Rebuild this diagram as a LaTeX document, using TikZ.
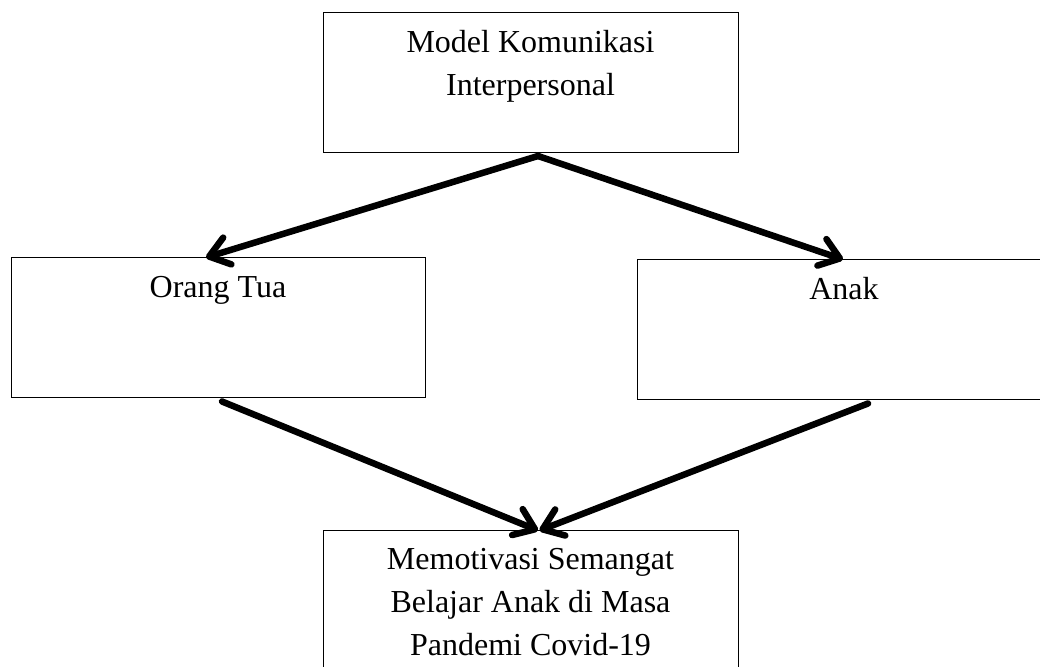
\documentclass[tikz,border=0pt]{standalone}
\usepackage{fontspec}
\setmainfont{Liberation Serif}
\usetikzlibrary{arrows.meta}
\begin{document}
\begin{tikzpicture}[x=1pt,y=1pt,
  box/.style={draw=black, line width=1pt, minimum width=414pt, minimum height=140pt, inner sep=0pt},
  lbl/.style={inner sep=0pt, anchor=base, font=\fontsize{32}{43}\selectfont},
  conn/.style={line width=6.5pt, line cap=round, -{Straight Barb[length=19pt,width=28pt,round]}}]
\useasboundingbox (0,0) rectangle (1040,666);
\node[box, minimum width=415pt] (top) at (530.5,583) {};
\node[box] (ortu) at (218,338) {};
\node[box] (anak) at (844,336) {};
\node[box, minimum width=415pt] (hasil) at (530.5,65) {};
\node[lbl] (ttop) at (530.5,613) {\parbox[t]{400pt}{\centering Model Komunikasi\\Interpersonal}};
\node[lbl] (tortu) at (218,368) {Orang Tua};
\node[lbl] (tanak) at (844,366) {Anak};
\node[lbl] (thasil) at (530.5,96) {\parbox[t]{400pt}{\centering Memotivasi Semangat\\Belajar Anak di Masa\\Pandemi Covid-19}};
\draw[conn] ([xshift=7.5pt,yshift=-2.5pt]top.south) -- ([xshift=-12pt]ortu.north);
\draw[conn] ([xshift=7.5pt,yshift=-2.5pt]top.south) -- ([xshift=-1pt]anak.north);
\draw[conn] ([xshift=4pt,yshift=-3pt]ortu.south) -- ([xshift=7.5pt]hasil.north);
\draw[conn] ([xshift=24pt,yshift=-3pt]anak.south) -- ([xshift=9pt]hasil.north);
\end{tikzpicture}
\end{document}
